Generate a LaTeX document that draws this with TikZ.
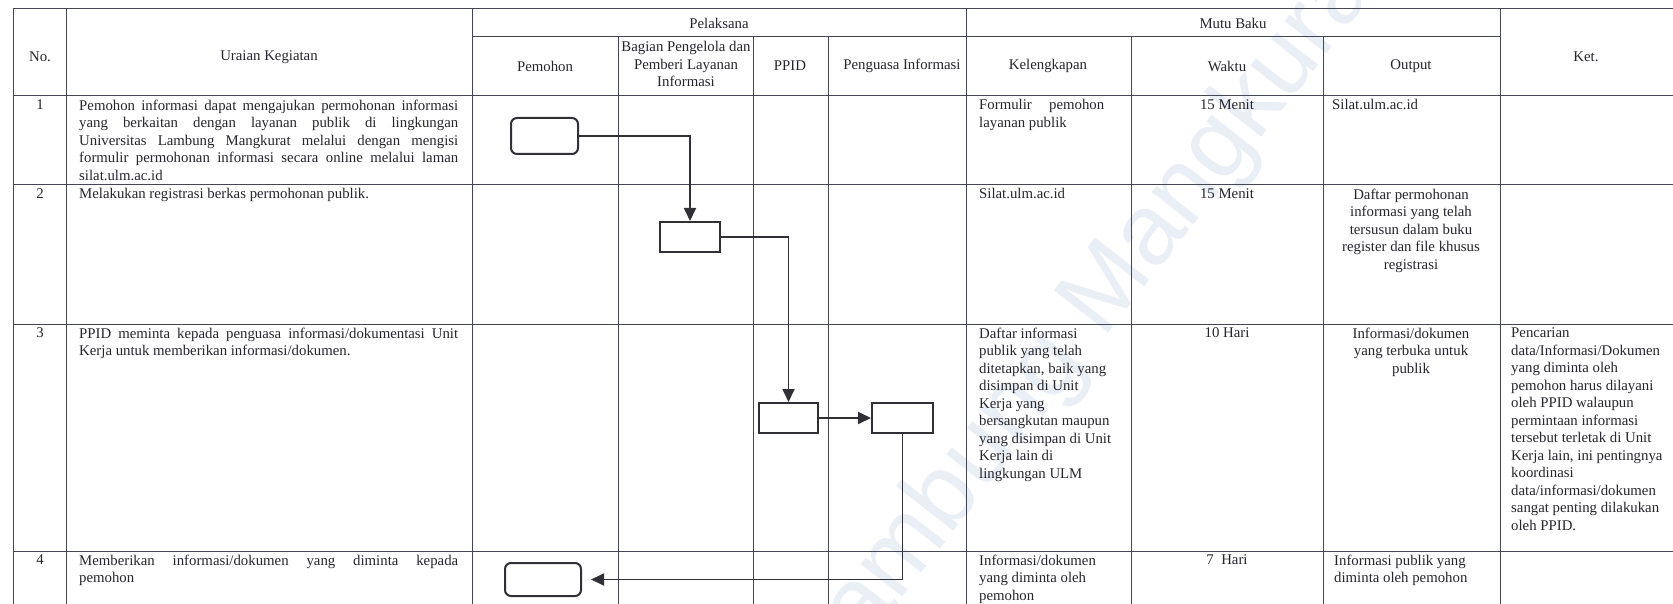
\documentclass[tikz,border=0pt]{standalone}
\usepackage{fontspec}
\setmainfont{Liberation Serif}
\newfontfamily\wmfont{Liberation Sans}
\usetikzlibrary{arrows.meta}
\definecolor{tline}{RGB}{68,70,84}
\definecolor{ink}{RGB}{38,38,44}
\definecolor{fline}{RGB}{48,48,54}
\definecolor{wmcol}{RGB}{234,238,245}
\newcommand{\fs}{\fontsize{14.8}{17.5}\selectfont}
\newcommand{\jl}[2]{\makebox[#1pt][s]{#2}}
\begin{document}
\begin{tikzpicture}[x=1pt,y=-1pt,
  grid/.style={draw=tline,line width=1pt},
  tl/.style={inner sep=0pt,anchor=north west,align=left,text=ink,font=\fs},
  tc/.style={inner sep=0pt,anchor=north,align=center,text=ink,font=\fs},
  th/.style={inner sep=0pt,anchor=center,align=center,text=ink,font=\fs},
  procbox/.style={draw=fline,line width=2pt,inner sep=0pt},
  termbox/.style={procbox,rounded corners=6pt},
  conn/.style={draw=fline,line width=1.8pt,-{Triangle[length=13pt,width=12pt]}},
  wmark/.style={inner sep=0pt,anchor=base west,text=wmcol,font=\wmfont\fontsize{100}{100}\selectfont,rotate=52}
]
\useasboundingbox (0,0) rectangle (1673,604);
\fill[white] (0,0) rectangle (1673,604);
% watermark
\node[wmark] (wm) at (830,690) {Lambung Mangkurat};
% table grid
\draw[grid] (13,9) -- (1690,9);
\foreach \y in {96,185,324,551} \draw[grid] (13,\y) -- (1690,\y);
\draw[grid] (472,37) -- (1500,37);
\foreach \x in {13,66,472,966,1500} \draw[grid] (\x,9) -- (\x,620);
\foreach \x in {618,753,828,1131,1323} \draw[grid] (\x,37) -- (\x,620);
% header
\node[th] (hno) at (40,57) {No.};
\node[th] (hur) at (269,57) {Uraian Kegiatan};
\node[th] (hpel) at (719,23) {Pelaksana};
\node[th] (hpem) at (545,66) {Pemohon};
\node[th] (hbag) at (686,64) {Bagian Pengelola dan\\Pemberi Layanan\\Informasi};
\node[th] (hppid) at (790,66) {PPID};
\node[th] (hpi) at (902,66) {Penguasa Informasi};
\node[th] (hmb) at (1233,23) {Mutu Baku};
\node[th] (hkel) at (1048,66) {Kelengkapan};
\node[th] (hwak) at (1227,66) {Waktu};
\node[th] (hout) at (1411,66) {Output};
\node[th] (hket) at (1586,57) {Ket.};
% row 1
\node[tc] (n1) at (40,99.5) {1};
\node[tl] (u1) at (79,99.5) {\jl{379}{Pemohon informasi dapat mengajukan permohonan informasi}\\
\jl{379}{yang berkaitan dengan layanan publik di lingkungan}\\
\jl{379}{Universitas Lambung Mangkurat melalui dengan mengisi}\\
\jl{379}{formulir permohonan informasi secara online melalui laman}\\
silat.ulm.ac.id};
\node[tl] (k1) at (979,99.5) {\jl{125}{Formulir pemohon}\\layanan publik};
\node[tc] (w1) at (1227,99.5) {15 Menit};
\node[tl] (o1) at (1332,99.5) {Silat.ulm.ac.id};
% row 2
\node[tc] (n2) at (40,188.5) {2};
\node[tl] (u2) at (79,188.5) {Melakukan registrasi berkas permohonan publik.};
\node[tl] (k2) at (979,188.5) {Silat.ulm.ac.id};
\node[tc] (w2) at (1227,188.5) {15 Menit};
\node[tc] (o2) at (1411,188.5) {Daftar permohonan\\informasi yang telah\\tersusun dalam buku\\register dan file khusus\\registrasi};
% row 3
\node[tc] (n3) at (40,327.5) {3};
\node[tl] (u3) at (79,327.5) {\jl{379}{PPID meminta kepada penguasa informasi/dokumentasi Unit}\\
Kerja untuk memberikan informasi/dokumen.};
\node[tl] (k3) at (979,327.5) {Daftar informasi\\publik yang telah\\ditetapkan, baik yang\\disimpan di Unit\\Kerja yang\\bersangkutan maupun\\yang disimpan di Unit\\Kerja lain di\\lingkungan ULM};
\node[tc] (w3) at (1227,327.5) {10 Hari};
\node[tc] (o3) at (1411,327.5) {Informasi/dokumen\\yang terbuka untuk\\publik};
\node[tl] (ket3) at (1511,327.5) {Pencarian\\data/Informasi/Dokumen\\yang diminta oleh\\pemohon harus dilayani\\oleh PPID walaupun\\permintaan informasi\\tersebut terletak di Unit\\Kerja lain, ini pentingnya\\koordinasi\\data/informasi/dokumen\\sangat penting dilakukan\\oleh PPID.};
% row 4
\node[tc] (n4) at (40,554.5) {4};
\node[tl] (u4) at (79,554.5) {\jl{379}{Memberikan informasi/dokumen yang diminta kepada}\\pemohon};
\node[tl] (k4) at (979,554.5) {Informasi/dokumen\\yang diminta oleh\\pemohon};
\node[tc] (w4) at (1227,554.5) {7\ \ Hari};
\node[tl] (o4) at (1334,554.5) {Informasi publik yang\\diminta oleh pemohon};
% flow shapes
\node[termbox,minimum width=67pt,minimum height=36pt] (r1) at (544.5,136) {};
\node[procbox,minimum width=60pt,minimum height=30pt] (b2) at (690,237) {};
\node[procbox,minimum width=59pt,minimum height=30pt] (b3a) at (788.5,418) {};
\node[procbox,minimum width=61pt,minimum height=30pt] (b3b) at (902.5,418) {};
\node[termbox,minimum width=76pt,minimum height=33pt] (r4) at (543,579.5) {};
% connectors
\draw[conn] (r1.east) -| (b2.north);
\draw[conn] (b2.east) -| (b3a.north);
\draw[conn] (b3a.east) -- (b3b.west);
\draw[conn] (b3b.south) |- ([xshift=9pt]r4.east);
\end{tikzpicture}
\end{document}
